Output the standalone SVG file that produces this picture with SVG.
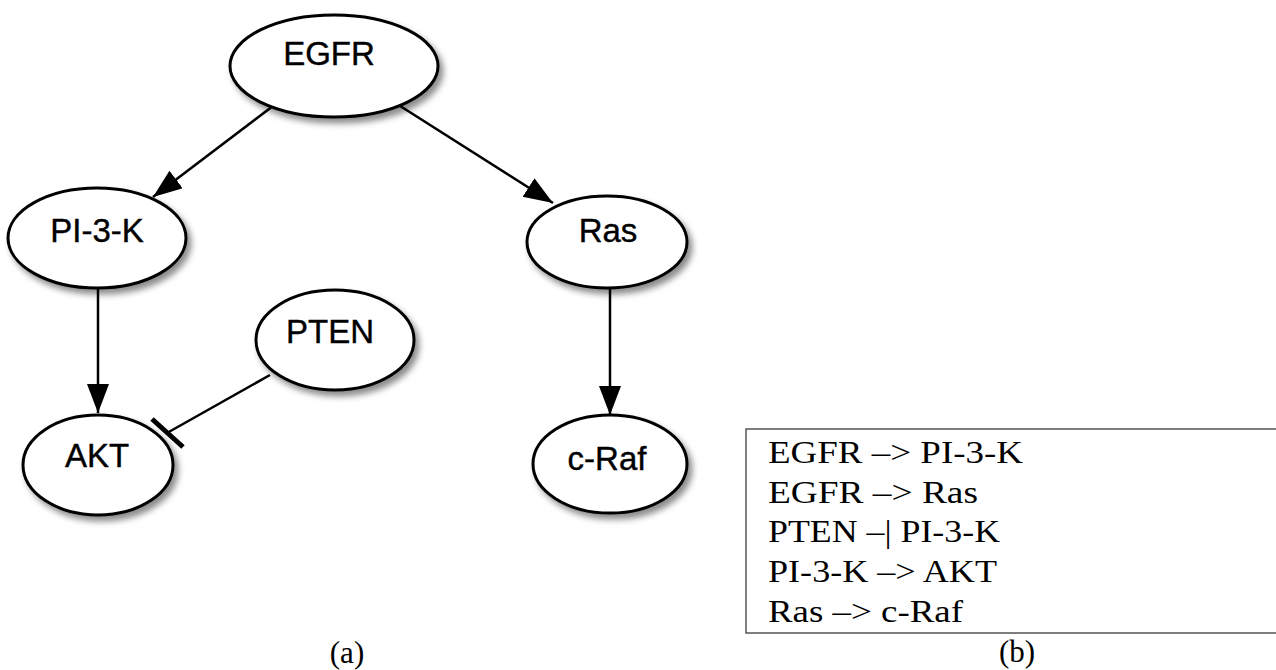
<svg xmlns="http://www.w3.org/2000/svg" width="1276" height="670" viewBox="0 0 1276 670">
  <style>
    .node ellipse { fill: #ffffff; stroke: #000000; stroke-width: 3; filter: url(#shadow); }
    .node text { font-family: "Liberation Sans", Arial, Helvetica, sans-serif; font-size: 33px; fill: #000000; stroke: #000000; stroke-width: 0.4; text-anchor: middle; }
    .edge { stroke: #000000; stroke-width: 2.5; fill: none; }
    .rule { font-family: "Liberation Serif", "Times New Roman", serif; font-size: 31px; fill: #000000; }
    .caption { font-family: "Liberation Serif", "Times New Roman", serif; font-size: 31px; fill: #000000; text-anchor: middle; }
  </style>
  <defs>
    <filter id="shadow" x="-20%" y="-20%" width="150%" height="150%">
      <feDropShadow dx="4" dy="5" stdDeviation="3" flood-color="#000000" flood-opacity="0.45"/>
    </filter>
    <marker id="arrow" markerUnits="userSpaceOnUse" markerWidth="32" markerHeight="24" refX="29" refY="11" orient="auto">
      <path d="M0,0 L29,11 L0,22 Z" fill="#000000"/>
    </marker>
  </defs>

  <rect width="1276" height="670" fill="#ffffff"/>

  <!-- (a) network graph -->
  <g id="connectors">
    <line class="edge" x1="273" y1="106" x2="153" y2="197" marker-end="url(#arrow)"/>
    <line class="edge" x1="397" y1="104" x2="553" y2="203" marker-end="url(#arrow)"/>
    <line class="edge" x1="98" y1="289" x2="98" y2="413" marker-end="url(#arrow)"/>
    <line class="edge" x1="610" y1="289" x2="610" y2="415" marker-end="url(#arrow)"/>
    <!-- inhibition: PTEN -| AKT -->
    <line class="edge" x1="270" y1="375" x2="167" y2="433"/>
    <line x1="152" y1="419" x2="183" y2="447" stroke="#000000" stroke-width="5"/>
  </g>

  <g id="node-egfr" class="node">
    <ellipse cx="334" cy="66" rx="104" ry="51"/>
    <text x="329" y="65">EGFR</text>
  </g>
  <g id="node-pi3k" class="node">
    <ellipse cx="97" cy="238" rx="89" ry="50"/>
    <text x="97" y="242">PI-3-K</text>
  </g>
  <g id="node-ras" class="node">
    <ellipse cx="607" cy="242" rx="80" ry="46"/>
    <text x="608" y="242">Ras</text>
  </g>
  <g id="node-pten" class="node">
    <ellipse cx="335" cy="340" rx="79" ry="50"/>
    <text x="330" y="343">PTEN</text>
  </g>
  <g id="node-akt" class="node">
    <ellipse cx="98" cy="465" rx="75" ry="50"/>
    <text x="97" y="467">AKT</text>
  </g>
  <g id="node-craf" class="node">
    <ellipse cx="610" cy="464" rx="77" ry="49"/>
    <text x="607" y="470">c-Raf</text>
  </g>

  <text class="caption" x="347" y="663">(a)</text>

  <!-- (b) rule list -->
  <g id="rules">
    <rect x="746" y="429" width="540" height="204" fill="none" stroke="#555555" stroke-width="1.5"/>
    <text class="rule" x="768" y="463" textLength="255" lengthAdjust="spacingAndGlyphs">EGFR –&gt; PI-3-K</text>
    <text class="rule" x="768" y="502.7" textLength="210" lengthAdjust="spacingAndGlyphs">EGFR –&gt; Ras</text>
    <text class="rule" x="768" y="542.4" textLength="232" lengthAdjust="spacingAndGlyphs">PTEN –| PI-3-K</text>
    <text class="rule" x="768" y="582" textLength="229" lengthAdjust="spacingAndGlyphs">PI-3-K –&gt; AKT</text>
    <text class="rule" x="768" y="621.7" textLength="195" lengthAdjust="spacingAndGlyphs">Ras –&gt; c-Raf</text>
  </g>

  <text class="caption" x="1017" y="662">(b)</text>
</svg>
